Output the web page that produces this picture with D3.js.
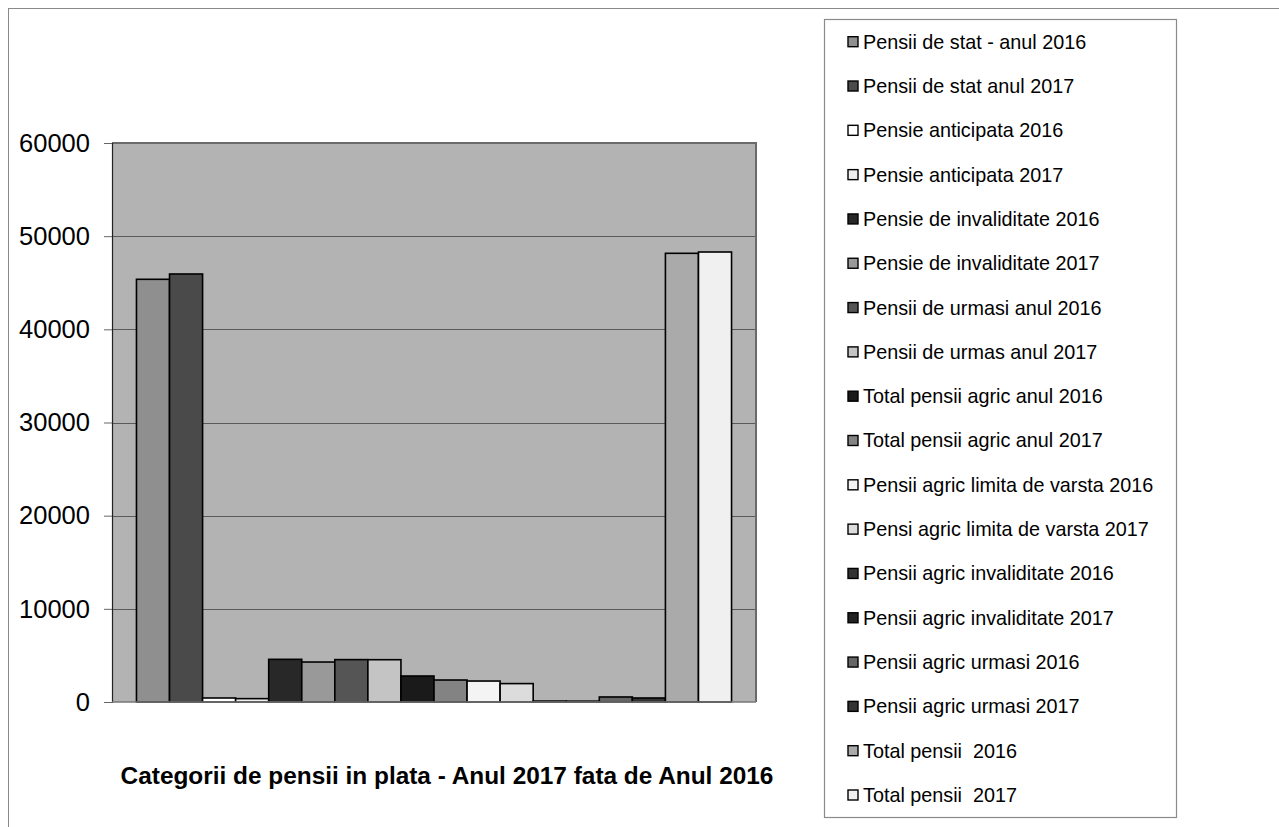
<!DOCTYPE html>
<html>
<head>
<meta charset="utf-8">
<script src="https://cdn.jsdelivr.net/npm/d3@7"></script>
<style>
  body { margin: 0; background: #fff; }
  text { font-family: "Liberation Sans", Arial, sans-serif; fill: #000; }
</style>
</head>
<body>
<div id="chart"></div>
<script>
// Series (one bar per series, all in a single category)
const seriesNames = [
  "Pensii de stat - anul 2016",
  "Pensii de stat anul 2017",
  "Pensie anticipata 2016",
  "Pensie anticipata 2017",
  "Pensie de invaliditate 2016",
  "Pensie de invaliditate 2017",
  "Pensii de urmasi anul 2016",
  "Pensii de urmas anul 2017",
  "Total pensii agric anul 2016",
  "Total pensii agric anul 2017",
  "Pensii agric limita de varsta 2016",
  "Pensi agric limita de varsta 2017",
  "Pensii agric invaliditate 2016",
  "Pensii agric invaliditate 2017",
  "Pensii agric urmasi 2016",
  "Pensii agric urmasi 2017",
  "Total pensii  2016",
  "Total pensii  2017"
];
const seriesValues = [
  45370, 45940, 430, 360, 4580, 4290, 4550, 4540, 2790, 2360,
  2250, 1975, 100, 90, 540, 430, 48160, 48300
];
const seriesColors = [
  "#8f8f8f", "#4a4a4a", "#ffffff", "#eeeeee", "#282828", "#999999",
  "#555555", "#c4c4c4", "#1a1a1a", "#838383", "#f4f4f4", "#dcdcdc",
  "#333333", "#222222", "#666666", "#333333", "#aaaaaa", "#f0f0f0"
];
const yTicks = [0, 10000, 20000, 30000, 40000, 50000, 60000];
const chartTitle = "Categorii de pensii in plata - Anul 2017 fata de Anul 2016";

const data = seriesNames.map((name, i) => ({ name, value: seriesValues[i], color: seriesColors[i] }));

const width = 1279, height = 827;
const plot = { left: 112, top: 143, right: 756, bottom: 702 };

const svg = d3.select("#chart").append("svg")
  .attr("width", width)
  .attr("height", height);

// outer frame
svg.append("rect")
  .attr("x", 8.5).attr("y", 8.5)
  .attr("width", width + 10).attr("height", height + 10)
  .attr("fill", "#fff")
  .attr("stroke", "#8a8a8a")
  .attr("stroke-width", 1);

const x = d3.scaleBand()
  .domain(seriesNames)
  .range([plot.left, plot.right])
  .paddingInner(0)
  .paddingOuter(0.74);

const y = d3.scaleLinear()
  .domain([0, 60000])
  .range([plot.bottom, plot.top]);

// plot background
svg.append("rect")
  .attr("x", plot.left).attr("y", plot.top)
  .attr("width", plot.right - plot.left)
  .attr("height", plot.bottom - plot.top)
  .attr("fill", "#b3b3b3");

// gridlines
svg.append("g")
  .selectAll("line")
  .data(yTicks.filter(d => d > 0 && d < 60000))
  .join("line")
  .attr("x1", plot.left).attr("x2", plot.right)
  .attr("y1", d => Math.round(y(d)) + 0.5)
  .attr("y2", d => Math.round(y(d)) + 0.5)
  .attr("stroke", "#5a5a5a")
  .attr("stroke-width", 1);

// plot border (top + right)
svg.append("path")
  .attr("d", `M${plot.left},${plot.top} H${plot.right} V${plot.bottom}`)
  .attr("fill", "none")
  .attr("stroke", "#6a6a6a")
  .attr("stroke-width", 2);

// bars
svg.append("g")
  .selectAll("rect")
  .data(data)
  .join("rect")
  .attr("x", d => x(d.name))
  .attr("y", d => y(d.value))
  .attr("width", x.bandwidth())
  .attr("height", d => y(0) - y(d.value))
  .attr("fill", d => d.color)
  .attr("stroke", "#000")
  .attr("stroke-width", 1.6);

// y axis
const leftAxis = d3.axisLeft(y)
  .tickValues(yTicks)
  .tickFormat(d3.format("d"))
  .tickSize(8)
  .tickPadding(14);

const yAxis = svg.append("g")
  .attr("transform", `translate(${plot.left}, 0)`)
  .call(leftAxis);
yAxis.select(".domain").attr("stroke", "#222").attr("stroke-width", 1.2);
yAxis.selectAll(".tick line").attr("stroke", "#666");
yAxis.selectAll("text")
  .style("font-family", "'Liberation Sans', Arial, sans-serif")
  .style("font-size", "25.5px")
  .attr("fill", "#000");

// x baseline
svg.append("line")
  .attr("x1", plot.left).attr("x2", plot.right)
  .attr("y1", plot.bottom).attr("y2", plot.bottom)
  .attr("stroke", "#777")
  .attr("stroke-width", 1.5);

// title
svg.append("text")
  .attr("x", 447)
  .attr("y", 775)
  .attr("dy", "0.35em")
  .attr("text-anchor", "middle")
  .style("font-size", "24.4px")
  .style("font-weight", "bold")
  .text(chartTitle);

// legend
const legendBox = { x: 824, y: 19, w: 352, h: 798 };
svg.append("rect")
  .attr("x", legendBox.x + 0.5).attr("y", legendBox.y + 0.5)
  .attr("width", legendBox.w).attr("height", legendBox.h)
  .attr("fill", "#fff")
  .attr("stroke", "#8a8a8a")
  .attr("stroke-width", 1.2);

const legend = svg.append("g");
const rowY = d3.scaleLinear().domain([0, seriesNames.length - 1]).range([41.7, 795]);

const rows = legend.selectAll("g")
  .data(data)
  .join("g")
  .attr("transform", (d, i) => `translate(848, ${rowY(i)})`);

rows.append("rect")
  .attr("x", 0).attr("y", -5)
  .attr("width", 10).attr("height", 10)
  .attr("fill", d => d.color)
  .attr("stroke", "#000")
  .attr("stroke-width", 1.4);

rows.append("text")
  .attr("x", 15)
  .attr("y", 0)
  .attr("dy", "0.35em")
  .style("font-size", "19.8px")
  .style("white-space", "pre")
  .text(d => d.name);
</script>
</body>
</html>
